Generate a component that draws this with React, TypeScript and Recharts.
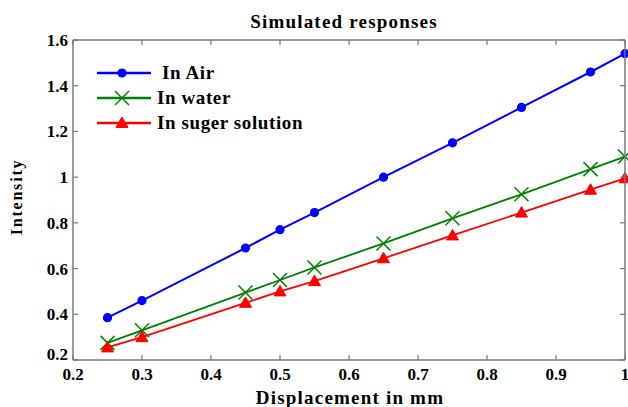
import React from 'react';
import { LineChart, Line, XAxis, YAxis } from 'recharts';

const displacement = [0.25, 0.3, 0.45, 0.5, 0.55, 0.65, 0.75, 0.85, 0.95, 1.0];
const inAir = [0.385, 0.46, 0.69, 0.77, 0.845, 1.0, 1.15, 1.305, 1.46, 1.54];
const inWater = [0.275, 0.33, 0.495, 0.55, 0.605, 0.71, 0.82, 0.925, 1.035, 1.09];
const inSugar = [0.255, 0.3, 0.45, 0.5, 0.545, 0.645, 0.745, 0.845, 0.945, 0.995];
const xTicks = [0.2, 0.3, 0.4, 0.5, 0.6, 0.7, 0.8, 0.9, 1];
const yTicks = [0.2, 0.4, 0.6, 0.8, 1, 1.2, 1.4, 1.6];
const seriesNames = ['In Air', 'In water', 'In suger solution'];

const data = displacement.map((d, i) => ({ x: d, air: inAir[i], water: inWater[i], sugar: inSugar[i] }));

const X_MIN = xTicks[0];
const X_MAX = xTicks[xTicks.length - 1];
const Y_MIN = yTicks[0];
const Y_MAX = yTicks[yTicks.length - 1];

// layout
const CHART_W = 628;
const CHART_H = 407;
const MARGIN = { top: 40, right: 3, bottom: 0, left: 0 };
const Y_AXIS_W = 73;
const X_AXIS_H = 47;
const PLOT_LEFT = MARGIN.left + Y_AXIS_W;
const PLOT_RIGHT = CHART_W - MARGIN.right;
const PLOT_TOP = MARGIN.top;
const PLOT_BOTTOM = CHART_H - MARGIN.bottom - X_AXIS_H;
const TICK_LEN = 5;

const BLUE = '#0000ff';
const GREEN = '#008000';
const RED = '#ff0000';
const FRAME = '#7a7a7a';
const FONT = '"Liberation Serif", "Times New Roman", serif';

const fmt = (v: number) => (v === 1 ? '1' : String(Number(v.toFixed(1))));

const CircleDot = (props: any) => {
  const { cx, cy } = props;
  if (cx == null || cy == null) return null;
  return <circle cx={cx} cy={cy} r={4} fill={BLUE} stroke={BLUE} strokeWidth={1.2} />;
};
const CrossDot = (props: any) => {
  const { cx, cy } = props;
  if (cx == null || cy == null) return null;
  const s = 7;
  return (
    <g stroke={GREEN} strokeWidth={1.5}>
      <line x1={cx - s} y1={cy - s} x2={cx + s} y2={cy + s} />
      <line x1={cx - s} y1={cy + s} x2={cx + s} y2={cy - s} />
    </g>
  );
};
const TriDot = (props: any) => {
  const { cx, cy } = props;
  if (cx == null || cy == null) return null;
  const s = 6;
  return <polygon points={`${cx},${cy - s} ${cx - s},${cy + s * 0.75} ${cx + s},${cy + s * 0.75}`} fill={RED} stroke={RED} />;
};

// bottom-axis tick: label + inward ticks on bottom and top edges (+ top/right frame once)
const XTick = (props: any) => {
  const { y, payload, index } = props;
  const cx = payload.coordinate;
  return (
    <g>
      {index === 0 && (
        <g stroke={FRAME} strokeWidth={1.5}>
          <line x1={PLOT_LEFT} y1={PLOT_TOP} x2={PLOT_RIGHT} y2={PLOT_TOP} />
          <line x1={PLOT_RIGHT} y1={PLOT_TOP} x2={PLOT_RIGHT} y2={PLOT_BOTTOM} />
        </g>
      )}
      <line x1={cx} y1={PLOT_BOTTOM} x2={cx} y2={PLOT_BOTTOM - TICK_LEN} stroke={FRAME} strokeWidth={1.2} />
      <line x1={cx} y1={PLOT_TOP} x2={cx} y2={PLOT_TOP + TICK_LEN} stroke={FRAME} strokeWidth={1.2} />
      <text x={cx} y={y} dy="0.71em" textAnchor="middle" fontFamily={FONT} fontWeight="bold" fontSize={17} fill="#000">
        {fmt(payload.value)}
      </text>
    </g>
  );
};

// left-axis tick: label + inward ticks on left and right edges
const YTick = (props: any) => {
  const { x, payload } = props;
  const cy = payload.coordinate;
  const nudge = payload.value === Y_MIN ? -6 : 0;
  return (
    <g>
      <line x1={PLOT_LEFT} y1={cy} x2={PLOT_LEFT + TICK_LEN} y2={cy} stroke={FRAME} strokeWidth={1.2} />
      <line x1={PLOT_RIGHT} y1={cy} x2={PLOT_RIGHT - TICK_LEN} y2={cy} stroke={FRAME} strokeWidth={1.2} />
      <text x={x} y={cy + nudge} dy="0.355em" textAnchor="end" fontFamily={FONT} fontWeight="bold" fontSize={17} fill="#000">
        {fmt(payload.value)}
      </text>
    </g>
  );
};

const Overlay = () => {
  const colors = [BLUE, GREEN, RED];
  const markers = [CircleDot, CrossDot, TriDot];
  return (
    <svg width={CHART_W} height={CHART_H} style={{ position: 'absolute', left: 0, top: 0, pointerEvents: 'none' }}>
      <text x={344} y={28} textAnchor="middle" fontFamily={FONT} fontWeight="bold" fontSize={19} letterSpacing={1.2} fill="#000">Simulated responses</text>
      <text x={350} y={404} textAnchor="middle" fontFamily={FONT} fontWeight="bold" fontSize={19} letterSpacing={1.2} fill="#000">Displacement in mm</text>
      <text x={22} y={197} textAnchor="middle" fontFamily={FONT} fontWeight="bold" fontSize={16} letterSpacing={1.8} fill="#000" transform="rotate(-90 22 197)">Intensity</text>
      <g transform="translate(95 62)">
        {seriesNames.map((n, i) => {
          const y = 11 + i * 25;
          const M = markers[i];
          return (
            <g key={n}>
              <line x1={2} y1={y} x2={56} y2={y} stroke={colors[i]} strokeWidth={2.5} />
              <M cx={27} cy={y} />
              <text x={i === 0 ? 67 : 62} y={y + 6} fontFamily={FONT} fontWeight="bold" fontSize={19} letterSpacing={0.6} fill="#000">{n}</text>
            </g>
          );
        })}
      </g>
    </svg>
  );
};

export default function App() {
  return (
    <div style={{ position: 'absolute', left: 0, top: 0, width: CHART_W, height: CHART_H, background: '#fff' }}>
      <LineChart width={CHART_W} height={CHART_H} data={data} margin={MARGIN}>
        <XAxis
          dataKey="x"
          type="number"
          domain={[X_MIN, X_MAX]}
          ticks={xTicks}
          interval={0}
          height={X_AXIS_H}
          tickLine={false}
          tickSize={4}
          tickMargin={4}
          stroke={FRAME}
          strokeWidth={1.5}
          tick={<XTick />}
        />
        <YAxis
          type="number"
          domain={[Y_MIN, Y_MAX]}
          ticks={yTicks}
          interval={0}
          width={Y_AXIS_W}
          tickLine={false}
          tickSize={4}
          tickMargin={1}
          stroke={FRAME}
          strokeWidth={1.5}
          tick={<YTick />}
        />
        <Line dataKey="air" name={seriesNames[0]} stroke={BLUE} strokeWidth={2} dot={<CircleDot />} isAnimationActive={false} />
        <Line dataKey="water" name={seriesNames[1]} stroke={GREEN} strokeWidth={1.8} dot={<CrossDot />} isAnimationActive={false} />
        <Line dataKey="sugar" name={seriesNames[2]} stroke={RED} strokeWidth={1.8} dot={<TriDot />} isAnimationActive={false} />
      </LineChart>
      <Overlay />
    </div>
  );
}
